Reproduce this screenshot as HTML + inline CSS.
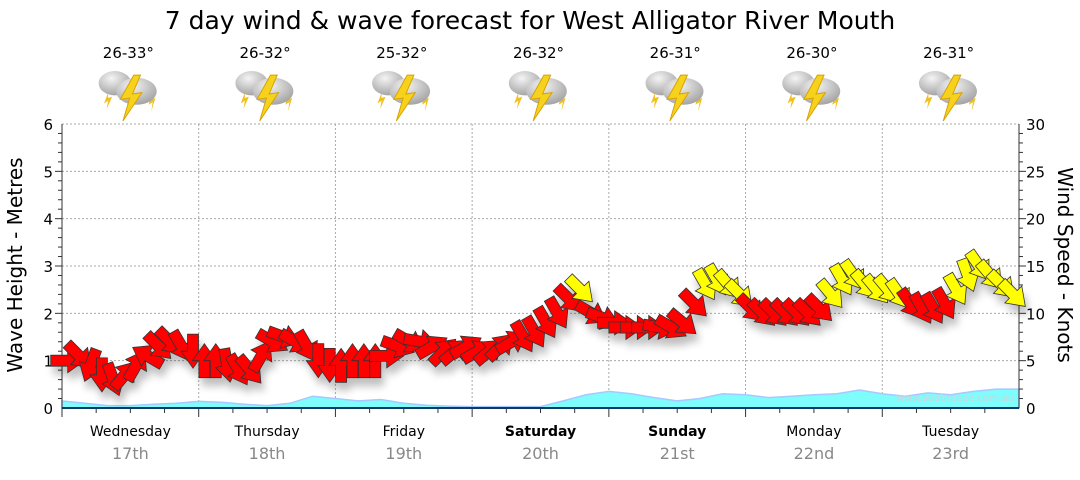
<!DOCTYPE html>
<html><head><meta charset="utf-8"><style>
body{margin:0;background:#fff;font-family:"Liberation Sans","DejaVu Sans",sans-serif}
svg text{font-family:"DejaVu Sans","Liberation Sans",sans-serif}
</style></head><body>
<svg id="c" width="1080" height="475" viewBox="0 0 1080 475" xmlns="http://www.w3.org/2000/svg">
<defs>
<filter id="sh" x="-50%" y="-50%" width="200%" height="200%"><feGaussianBlur in="SourceAlpha" stdDeviation="4"/><feOffset dx="3" dy="8"/><feComponentTransfer><feFuncA type="linear" slope="0.25"/></feComponentTransfer><feMerge><feMergeNode/><feMergeNode in="SourceGraphic"/></feMerge></filter>
<radialGradient id="cl" cx="0.4" cy="0.3" r="0.8"><stop offset="0" stop-color="#f4f4f4"/><stop offset="1" stop-color="#9a9a9a"/></radialGradient>
</defs>
<text x="530" y="29" text-anchor="middle" font-size="25">7 day wind &amp; wave forecast for West Alligator River Mouth</text>
<g id="grid"></g><g id="wave"></g><g id="axes"></g><g id="arrows" filter="url(#sh)"></g><g id="top"></g>
<text x="955" y="401" text-anchor="middle" font-size="10" fill="#c8d8dc">www.seabreeze.com.au</text>
<text transform="translate(22,265) rotate(-90)" text-anchor="middle" font-size="20">Wave Height - Metres</text>
<text transform="translate(1058,265) rotate(90)" text-anchor="middle" font-size="20">Wind Speed - Knots</text>
</svg>
<script>
const days=["Wednesday","Thursday","Friday","Saturday","Sunday","Monday","Tuesday"];
const dates=["17th","18th","19th","20th","21st","22nd","23rd"];
const temps=["26-33°","26-32°","25-32°","26-32°","26-31°","26-30°","26-31°"];
const leftTicks=[0,1,2,3,4,5,6];
const rightTicks=[0,5,10,15,20,25,30];
const windSpeed=[5,5.5,4.5,3.5,3,3.5,4.5,5.5,6.5,7,6.5,6,
5,5,4.5,4,4,5.5,7,7.5,7,6.5,5,4.5,
4.5,5,5,5,5.5,6.5,7,7,6.5,6,6,6.5,
6,6,6.5,7,7.5,8,9,10,11.5,12.5,10,9.5,
9,8.5,8.5,8.5,8.5,8.5,9,11,13,13.5,13,12,
10.5,10,10,10,10,10,10.5,12,13.5,14,13,12.5,
12.5,12,11,10.5,10.5,11,12.5,14,15,14,13,12];
const windDir=[90,135,200,180,160,40,30,300,135,135,150,180,
0,0,170,150,140,30,120,110,120,150,180,180,
0,0,0,0,90,110,120,100,60,45,50,60,
60,50,45,60,150,150,150,150,135,135,120,110,
90,90,90,90,100,120,130,135,150,150,140,135,
135,135,135,135,135,135,135,140,150,145,140,140,
140,145,145,150,150,150,150,160,145,140,135,135];
const waveHeight=[0.15,0.1,0.05,0.05,0.08,0.1,0.14,0.12,0.08,0.05,0.1,0.25,
0.2,0.15,0.18,0.1,0.06,0.04,0.03,0.03,0.03,0.03,0.15,0.28,
0.35,0.3,0.22,0.15,0.2,0.3,0.28,0.22,0.25,0.28,0.3,0.38,
0.3,0.25,0.32,0.28,0.35,0.4,0.4];
const X0=62,X1=1019,Y0=408,Y1=124,NS="http://www.w3.org/2000/svg";
const dayW=(X1-X0)/7;
const xT=h=>X0+h/(7*24)*(X1-X0);
const yM=m=>Y0-m/6*(Y0-Y1);
const yK=k=>Y0-k/30*(Y0-Y1);
function mk(t,a,p){const e=document.createElementNS(NS,t);for(const k in a)e.setAttribute(k,a[k]);(p||document.getElementById('c')).appendChild(e);return e;}
const g=document.getElementById('grid'),ax=document.getElementById('axes'),wv=document.getElementById('wave'),ar=document.getElementById('arrows'),tp=document.getElementById('top');
leftTicks.forEach(v=>{if(v>0){const l=mk('line',{x1:X0,x2:X1,y1:yM(v),y2:yM(v),stroke:'#aaa','stroke-dasharray':'2,2'},g);}
const t=mk('text',{x:X0-9,y:yM(v)+6,'text-anchor':'end','font-size':15},ax);t.textContent=v;});
rightTicks.forEach(v=>{const t=mk('text',{x:X1+7,y:yK(v)+6,'font-size':15},ax);t.textContent=v;});
for(let i=1;i<30;i++){mk('line',{x1:X0-(i%5?4:7),x2:X0,y1:yM(i*0.2),y2:yM(i*0.2),stroke:'#333'},ax);mk('line',{x1:X1,x2:X1+(i%5?4:7),y1:yK(i),y2:yK(i),stroke:'#333'},ax);}
for(let d=0;d<7;d++){
 if(d>0){const l=mk('line',{x1:X0+d*dayW,x2:X0+d*dayW,y1:Y1,y2:Y0,stroke:'#aaa','stroke-dasharray':'2,2'},g);}
 for(let q=0;q<4;q++){const x=X0+d*dayW+q*dayW/4;mk('line',{x1:x,x2:x,y1:Y0,y2:Y0+(q?5:9),stroke:'#333'},ax);}
 const cx=X0+(d+0.5)*dayW;
 const t1=mk('text',{x:cx,y:436,'text-anchor':'middle','font-size':14,'font-weight':(d==3||d==4)?'bold':'normal'},ax);t1.textContent=days[d];
 const t2=mk('text',{x:cx,y:459,'text-anchor':'middle','font-size':16,fill:'#888'},ax);t2.textContent=dates[d];
 const t3=mk('text',{x:cx-2,y:58,'text-anchor':'middle','font-size':15},tp);t3.textContent=temps[d];
 const ic=mk('g',{transform:`translate(${cx-2},94) scale(1.35)`},tp);
 mk('path',{d:'M-15,-1 l-3,8 l3,-2 l-1,6 l4,-9 l-3,1z M17,0 l-2,8 l3,-2 l-1,7 l3,-10 l-3,1z',fill:'#f0c020'},ic);
 mk('ellipse',{cx:-10,cy:-8,rx:12,ry:9,fill:'url(#cl)'},ic);
 mk('ellipse',{cx:6,cy:-2,rx:15,ry:10,fill:'url(#cl)'},ic);
 mk('path',{d:'M4,-14 L-6,4 L1,3 L-4,20 L10,-1 L3,0 L9,-14z',fill:'#f7d21c',stroke:'#d8a000','stroke-width':0.7},ic);
}
let pts=waveHeight.map((h,i)=>`${xT(i*4).toFixed(1)},${yM(h).toFixed(1)}`);
const wa=mk('polygon',{points:`${X0},${Y0} ${pts.join(' ')} ${X1},${Y0}`,fill:'#7ffcfc',stroke:'#a8c8ff','stroke-width':1.5},wv);

mk('line',{x1:X0,x2:X0,y1:Y1,y2:Y0,stroke:'#333'},ax);mk('line',{x1:X1,x2:X1,y1:Y1,y2:Y0,stroke:'#333'},ax);
mk('line',{x1:X0,x2:X1,y1:Y0,y2:Y0,stroke:'#0b3a66','stroke-width':2},ax);
windSpeed.forEach((s,i)=>{const x=xT(i*2+1),y=yK(s);
 const a=mk('polygon',{points:'0,-17 12,0 5.5,0 5.5,17 -5.5,17 -5.5,0 -12,0',transform:`translate(${x.toFixed(1)},${y.toFixed(1)}) rotate(${windDir[i]})`,fill:s>=12?'#ffff00':'#ff0000',stroke:'#333','stroke-width':0.8},ar);
 });
</script>
</body></html>
